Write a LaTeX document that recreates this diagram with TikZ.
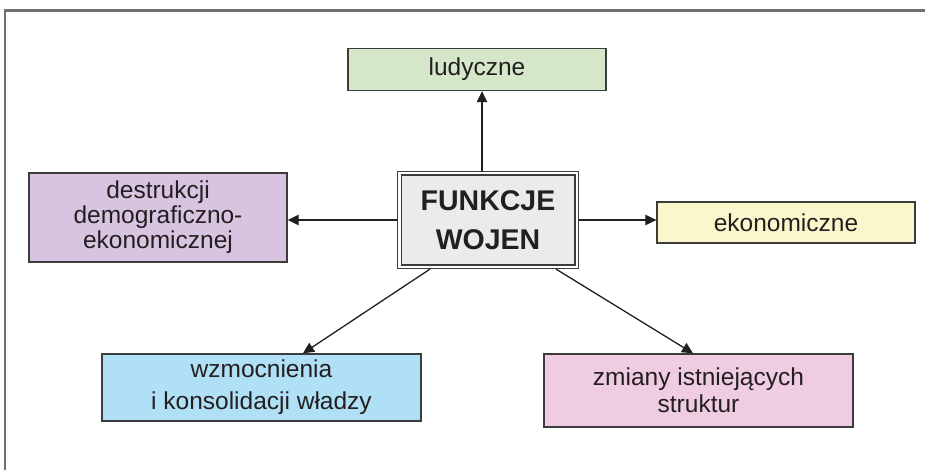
\documentclass[tikz,border=0pt]{standalone}
\usepackage{fontspec}
\setmainfont{Liberation Sans}
\usetikzlibrary{arrows.meta}
\definecolor{ramka}{HTML}{707070}
\definecolor{obwod}{HTML}{3C3C3C}
\definecolor{tekst}{HTML}{231F20}
\definecolor{zielony}{HTML}{D4E7C8}
\definecolor{fiolet}{HTML}{D8C4E0}
\definecolor{zolty}{HTML}{FBF7CC}
\definecolor{niebieski}{HTML}{B0E0F6}
\definecolor{rozowy}{HTML}{F0CCE2}
\definecolor{szary}{HTML}{EBEBEB}

\begin{document}
\begin{tikzpicture}[x=1pt,y=-1pt,
	pole/.style={draw=obwod,line width=1.4pt,inner sep=0pt,align=center,text=tekst},
	strzalka/.style={-{Triangle[length=11pt,width=10.5pt]},line width=1.3pt,draw=tekst}]
	\useasboundingbox (0,0) rectangle (925,470);
	\draw[ramka,line width=2.2pt] (925,10.5) -- (5,10.5) -- (5,470); % ramka
	\node[draw=obwod,double,double distance=2.5pt,line width=1.1pt,fill=szary,minimum width=177.5pt,minimum height=93.5pt,outer sep=2.35pt,align=center,text=tekst,font=\bfseries\fontsize{28.5}{39}\selectfont] (fw) at (488,220) {FUNKCJE\\WOJEN}; % srodek
	\node[pole,fill=zielony,minimum width=258pt,minimum height=42pt,font=\fontsize{24.5}{27}\selectfont] (lud) at (477,69.5) {ludyczne};
	\node[pole,fill=fiolet,minimum width=258pt,minimum height=89pt,font=\fontsize{24.5}{25}\selectfont] (des) at (158,217.5) {destrukcji\\demograficzno-\\ekonomicznej};
	\node[pole,fill=zolty,minimum width=258pt,minimum height=41pt,font=\fontsize{24.5}{27}\selectfont] (eko) at (786,222.5) {ekonomiczne};
	\node[pole,fill=niebieski,minimum width=319pt,minimum height=67pt,font=\fontsize{24.5}{32}\selectfont] (wzm) at (261.5,387.5) {wzmocnienia\\i konsolidacji władzy\rule[-4pt]{0pt}{0pt}};
	\node[pole,fill=rozowy,minimum width=309pt,minimum height=73pt,font=\fontsize{24.5}{27}\selectfont] (zmi) at (698.5,390.5) {zmiany istniejących\\struktur};
	\draw[strzalka] ([xshift=-6pt]fw.north) -- ([xshift=-6pt]fw.north |- lud.south); % w gore
	\draw[strzalka] (fw.west) -- (fw.west -| des.east); % w lewo
	\draw[strzalka] (fw.east) -- (fw.east -| eko.west); % w prawo
	\draw[strzalka] ([xshift=-58pt]fw.south) -- ([xshift=41.5pt]wzm.north); % w dol, lewa
	\draw[strzalka] ([xshift=68pt]fw.south) -- ([xshift=-5.5pt]zmi.north); % w dol, prawa
\end{tikzpicture}
\end{document}
